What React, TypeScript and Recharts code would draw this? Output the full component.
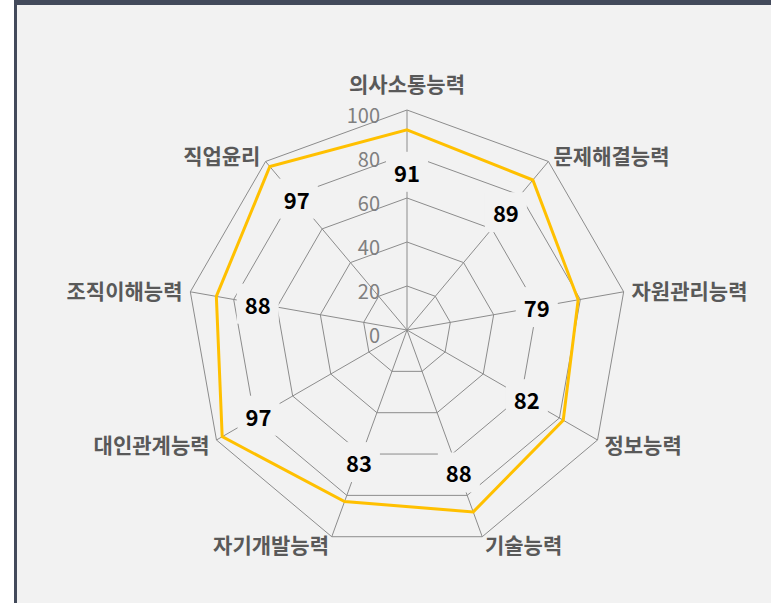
import { RadarChart, Radar, PolarGrid, PolarAngleAxis, PolarRadiusAxis } from 'recharts';

const categories = [
  '의사소통능력',
  '문제해결능력',
  '자원관리능력',
  '정보능력',
  '기술능력',
  '자기개발능력',
  '대인관계능력',
  '조직이해능력',
  '직업윤리',
];
const scores = [91, 89, 79, 82, 88, 83, 97, 88, 97];
const radiusTicks = [0, 20, 40, 60, 80, 100];

const data = categories.map((name, i) => ({ name, score: scores[i] }));

const CX = 390;
const CY = 325;
const R = 220;
const FONT = '"Noto Sans CJK KR", "Noto Sans", sans-serif';

function AngleTick(props: any) {
  const { x, y, payload, textAnchor } = props;
  const isTop = textAnchor === 'middle';
  return (
    <text
      x={x}
      y={isTop ? y - 19 : y}
      textAnchor={textAnchor}
      dominantBaseline="central"
      fill="#595959"
      fontSize={21}
      fontWeight={700}
      fontFamily={FONT}
    >
      {payload.value}
    </text>
  );
}

function RadiusTick(props: any) {
  const { x, y, payload } = props;
  return (
    <text
      x={x - 27}
      y={y + 4}
      textAnchor="end"
      dominantBaseline="central"
      fill="#7f7f7f"
      fontSize={20}
      fontFamily={FONT}
    >
      {payload.value}
    </text>
  );
}

function ValueLabel(props: any) {
  const vb = props.viewBox || {};
  let px = props.x;
  let py = props.y;
  if (typeof px !== 'number' || typeof py !== 'number') {
    if (typeof vb.x === 'number') {
      px = vb.x + (vb.width || 0) / 2;
      py = vb.y + (vb.height || 0) / 2;
    } else if (typeof vb.cx === 'number') {
      const a = ((vb.startAngle ?? vb.endAngle ?? 0) * Math.PI) / 180;
      px = vb.cx + vb.outerRadius * Math.cos(a);
      py = vb.cy - vb.outerRadius * Math.sin(a);
    }
  }
  const cx = typeof vb.cx === 'number' ? vb.cx : CX;
  const cy = typeof vb.cy === 'number' ? vb.cy : CY;
  const dx = px - cx;
  const dy = py - cy;
  const d = Math.hypot(dx, dy) || 1;
  const k = (d - 42) / d;
  const lx = cx + dx * k;
  const ly = cy + dy * k;
  return (
    <g>
      <rect x={lx - 21} y={ly - 20} width={42} height={40} fill="#f2f2f2" />
      <text
        x={lx}
        y={ly}
        textAnchor="middle"
        dominantBaseline="central"
        fill="#000"
        fontSize={22}
        fontWeight={600}
        fontFamily={FONT}
      >
        {props.value}
      </text>
    </g>
  );
}

export default function App() {
  return (
    <div
      style={{
        position: 'absolute',
        left: 0,
        top: 0,
        width: 771,
        height: 603,
        background: '#fff',
        overflow: 'hidden',
      }}
    >
      <div
        style={{
          position: 'absolute',
          left: 14,
          top: 0,
          width: 771 - 14,
          height: 603,
          background: '#f2f2f2',
          borderTop: '5px solid #434a5b',
          borderLeft: '3px solid #434a5b',
          boxSizing: 'border-box',
        }}
      >
        <RadarChart
          width={754}
          height={598}
          data={data}
          cx={CX}
          cy={CY}
          outerRadius={R}
          startAngle={90}
          endAngle={-270}
        >
          <PolarGrid gridType="polygon" stroke="#8c8c8c" strokeWidth={1} />
          <PolarAngleAxis
            dataKey="name"
            tick={<AngleTick />}
            tickLine={false}
            axisLine={false}
            tickSize={8}
          />
          <PolarRadiusAxis
            angle={90}
            domain={[0, 100]}
            ticks={radiusTicks}
            tickCount={6}
            axisLine={false}
            tickLine={false}
            tick={<RadiusTick />}
          />
          <Radar
            dataKey="score"
            stroke="#ffc000"
            strokeWidth={3}
            fill="none"
            fillOpacity={0}
            dot={false}
            isAnimationActive={false}
            label={<ValueLabel />}
          />
        </RadarChart>
      </div>
    </div>
  );
}
